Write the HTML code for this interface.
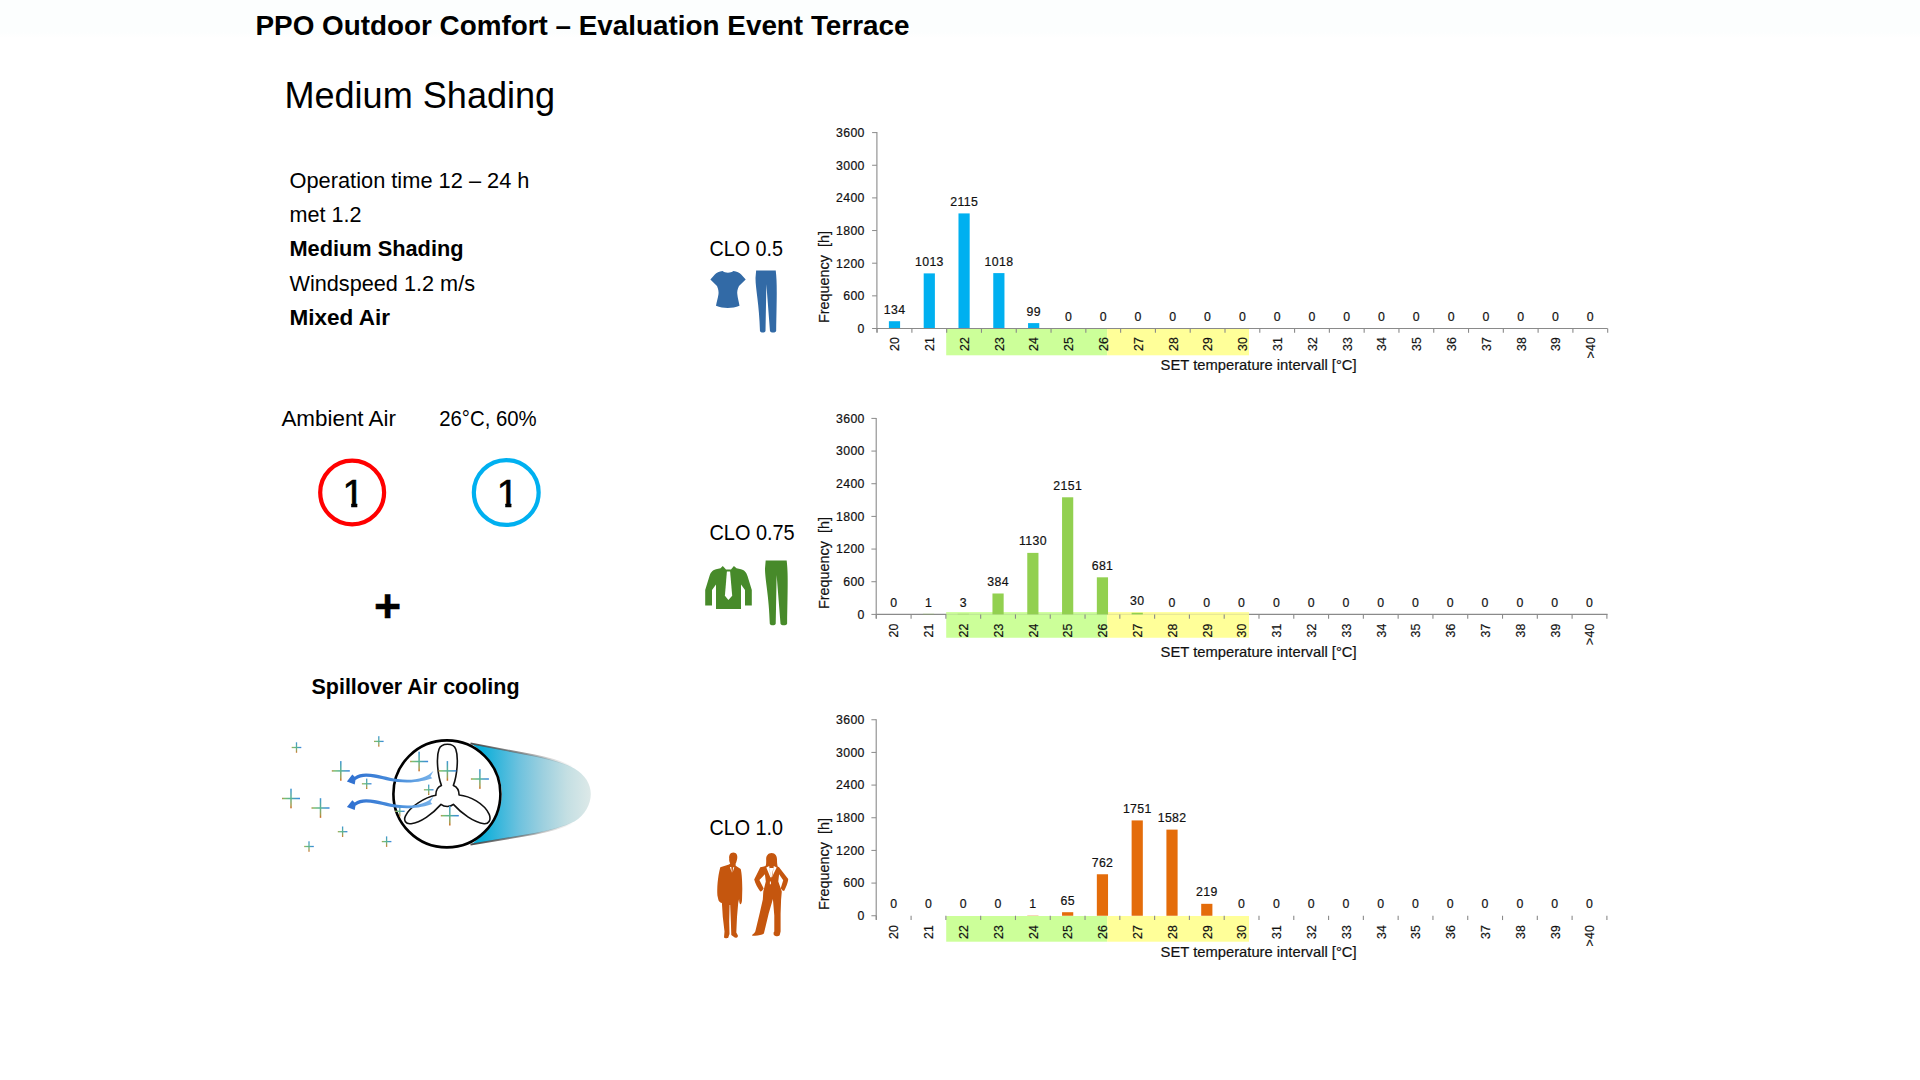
<!DOCTYPE html>
<html lang="en"><head><meta charset="utf-8"><title>PPO Outdoor Comfort – Evaluation Event Terrace</title>
<style>
html,body{margin:0;padding:0;background:#fff;}
body{width:1920px;height:1080px;overflow:hidden;font-family:"Liberation Sans",sans-serif;}
svg{display:block;position:absolute;left:0;top:0;}
svg text{font-family:"Liberation Sans",sans-serif;}
.c text{font-size:12.3px;fill:#111;stroke:#111;stroke-width:0.2px;}
</style></head><body>
<svg width="1920" height="1080" viewBox="0 0 1920 1080">
<defs>
<linearGradient id="hdr" x1="0" y1="0" x2="0" y2="1"><stop offset="0" stop-color="#fcfefe"/><stop offset="0.85" stop-color="#fcfefe"/><stop offset="1" stop-color="#ffffff"/></linearGradient>
<linearGradient id="cone" x1="0" y1="0" x2="1" y2="0"><stop offset="0" stop-color="#00acd8"/><stop offset="0.1" stop-color="#10b0da"/><stop offset="0.25" stop-color="#3fb8dc"/><stop offset="0.4" stop-color="#6ec2de"/><stop offset="0.6" stop-color="#9dd0df"/><stop offset="0.8" stop-color="#c4dfe3"/><stop offset="1" stop-color="#dde9e8"/></linearGradient>
<linearGradient id="edge" gradientUnits="userSpaceOnUse" x1="470" y1="0" x2="575" y2="0"><stop offset="0" stop-color="#444" stop-opacity="0.95"/><stop offset="0.5" stop-color="#666" stop-opacity="0.7"/><stop offset="1" stop-color="#999" stop-opacity="0"/></linearGradient>
<linearGradient id="ph" x1="0" y1="0" x2="1" y2="0"><stop offset="0" stop-color="#c08a4a"/><stop offset="0.12" stop-color="#7fbf6a"/><stop offset="0.5" stop-color="#4fb0a0"/><stop offset="1" stop-color="#3a86e0"/></linearGradient>
<linearGradient id="pv" x1="0" y1="0" x2="0" y2="1"><stop offset="0" stop-color="#3f95d6"/><stop offset="0.5" stop-color="#5fb58a"/><stop offset="0.85" stop-color="#a89a4c"/><stop offset="1" stop-color="#d0661f"/></linearGradient>
<linearGradient id="arwg" gradientUnits="userSpaceOnUse" x1="346" y1="0" x2="434" y2="0"><stop offset="0" stop-color="#2f6fd0"/><stop offset="0.6" stop-color="#4a8fdc"/><stop offset="1" stop-color="#7ab4ea"/></linearGradient>
<g id="plus"><rect x="-4.8" y="-0.65" width="9.6" height="1.3" fill="url(#ph)"/><rect x="-0.65" y="-5.2" width="1.3" height="10.4" fill="url(#pv)"/></g>
<g id="plusL"><rect x="-9" y="-0.75" width="18" height="1.5" fill="url(#ph)"/><rect x="-0.75" y="-9.8" width="1.5" height="19.6" fill="url(#pv)"/></g>
</defs>
<rect x="0" y="0" width="1920" height="38" fill="url(#hdr)"/>

<text x="255.5" y="34.5" font-size="27.85" font-weight="bold" fill="#000">PPO Outdoor Comfort – Evaluation Event Terrace</text>
<text x="284.4" y="107.5" font-size="36" textLength="270.8" lengthAdjust="spacingAndGlyphs" fill="#000">Medium Shading</text>
<text x="289.5" y="187.5" font-size="22.5" textLength="240" lengthAdjust="spacingAndGlyphs" fill="#000">Operation time 12 – 24 h</text>
<text x="289.5" y="222" font-size="22.5" textLength="72" lengthAdjust="spacingAndGlyphs" fill="#000">met 1.2</text>
<text x="289.5" y="256.25" font-size="22.5" font-weight="bold" textLength="174" lengthAdjust="spacingAndGlyphs" fill="#000">Medium Shading</text>
<text x="289.5" y="290.5" font-size="22.5" textLength="185.5" lengthAdjust="spacingAndGlyphs" fill="#000">Windspeed 1.2 m/s</text>
<text x="289.5" y="324.75" font-size="22.5" font-weight="bold" textLength="100.5" lengthAdjust="spacingAndGlyphs" fill="#000">Mixed Air</text>
<text x="281.4" y="425.7" font-size="22.5" textLength="114.6" lengthAdjust="spacingAndGlyphs" fill="#000">Ambient Air</text>
<text x="439.2" y="425.7" font-size="22.5" textLength="97.5" lengthAdjust="spacingAndGlyphs" fill="#000">26°C, 60%</text>
<circle cx="352.15" cy="492.5" r="31.95" fill="none" stroke="#ff0000" stroke-width="4.2"/>
<circle cx="506.25" cy="492.5" r="32.4" fill="none" stroke="#00b0f0" stroke-width="4.2"/>
<clipPath id="c1"><path d="M338,470 H370 V502.8 H357.3 V512 H351.2 V502.8 H338 Z"/></clipPath><clipPath id="c2"><path d="M492,470 H524 V502.8 H511.4 V512 H505.3 V502.8 H492 Z"/></clipPath>
<text x="353.4" y="507.1" font-size="39" text-anchor="middle" fill="#000" stroke="#000" stroke-width="0.7" clip-path="url(#c1)">1</text>
<text x="507.5" y="507.1" font-size="39" text-anchor="middle" fill="#000" stroke="#000" stroke-width="0.7" clip-path="url(#c2)">1</text>
<text x="387.7" y="621.9" font-size="46.5" font-weight="bold" text-anchor="middle" fill="#000" stroke="#000" stroke-width="0.5">+</text>
<text x="311.5" y="693.5" font-size="22.5" font-weight="bold" textLength="208" lengthAdjust="spacingAndGlyphs" fill="#000">Spillover Air cooling</text>
<text x="709.5" y="255.5" font-size="22.5" textLength="73.6" lengthAdjust="spacingAndGlyphs" fill="#000">CLO 0.5</text>
<text x="709.5" y="540.1" font-size="22.5" textLength="85.2" lengthAdjust="spacingAndGlyphs" fill="#000">CLO 0.75</text>
<text x="709.5" y="835.4" font-size="22.5" textLength="73.6" lengthAdjust="spacingAndGlyphs" fill="#000">CLO 1.0</text>
<g id="fan">
<path d="M471.5,743.8 L534.6,755.7 C548,758.3 565,763.3 574.4,768.4 C585,774.5 590.8,784 590.8,793.9 C590.8,804 585,815.2 574.4,821.6 C565,826.6 548,831.2 534.6,833.7 L471.5,844.2 C512,815 512,773 471.5,743.8 Z" fill="url(#cone)"/>
<path d="M470.5,743.4 L534.6,755.5 C548,758.1 562,762.2 572,766.8" fill="none" stroke="url(#edge)" stroke-width="1.8"/>
<path d="M470.5,844.6 L534.6,833.9 C548,831.4 562,827.6 572,823" fill="none" stroke="url(#edge)" stroke-width="1.8"/>
<circle cx="446.9" cy="793.9" r="53.5" fill="#fff" stroke="#000" stroke-width="2.6"/>
<g fill="none" stroke="#111" stroke-width="1.6" stroke-linejoin="round">
<path d="M441.4,785.4 C437.8,775.8 435.9,757.7 439.0,749.3 C441.4,742.6 453.4,742.6 455.8,749.3 C458.8,757.7 457.0,775.8 453.4,785.4 C456.4,786.6 459.1,789.6 459.1,795.0 C469.7,796.0 484.1,803.4 489.2,814.3 C491.6,820.5 488.2,824.1 484.1,823.7 C473.9,822.5 461.2,813.1 453.4,804.4 C450.4,807.1 444.4,807.1 441.0,804.4 C432.3,814.3 420.5,822.7 411.1,823.7 C405.6,824.4 403.4,820.3 405.4,816.1 C409.7,806.6 425.1,797.2 435.9,795.3 C435.7,790.2 438.4,786.6 441.4,785.4 Z"/>
</g>
<use href="#plus" x="296.5" y="747.5"/>
<use href="#plus" x="378.8" y="741.4"/>
<use href="#plusL" x="340.8" y="770.9"/>
<use href="#plus" x="366.7" y="783.8"/>
<use href="#plusL" x="291" y="798.5"/>
<use href="#plusL" x="320.5" y="808"/>
<use href="#plus" x="342.6" y="831.7"/>
<use href="#plus" x="309" y="846.5"/>
<use href="#plus" x="386.6" y="841.6"/>
<use href="#plusL" x="419.1" y="761.5"/>
<use href="#plusL" x="447.4" y="770.9"/>
<use href="#plusL" x="479.9" y="779"/>
<use href="#plus" x="428.7" y="789.8"/>
<use href="#plus" x="399.8" y="811.3"/>
<use href="#plusL" x="449.8" y="815.7"/>
<path id="arw" d="M433.5,770.7 C426.3,778.2 414.3,781.2 397.4,779.1 C387.8,777.9 378.2,773.9 366.1,773.6 C361.3,773.6 357.7,774.8 354.7,776.7 L352.3,774.5 L346.9,781.4 L354.7,784.4 L355.5,780.0 C358.9,777.6 362.5,776.7 366.1,776.7 C378.2,777.2 387.8,781.2 397.4,782.0 C414.3,783.6 425.1,780.6 432.3,778.2 L430.5,776.4 L433.5,770.7 Z" fill="url(#arwg)"/>
<use href="#arw" y="25.7"/>
</g>
<path fill="#326aa6" d="M722.6,271 C725,273.3 730.8,273.3 733.4,271 C737,271.6 739.5,272.8 741.2,274.6 L745.7,279.4 L739,285.9 C737.5,289 737,291.5 737.3,294 C737.6,298 739,302 739.5,305.8 C732,308.8 723.5,308.8 716,305.8 C716.5,302 718,298 718.5,294 C718.8,291.5 718.3,289 717,285.9 L710.4,279.4 L714.8,274.6 C716.5,272.8 719,271.6 722.6,271 Z"/>
<path fill="#326aa6" d="M756.139,270.6 L775.735,270.6 C777.226,283.04 776.8,295.48 776.1610000000001,330.934 C775.309,333.111 770.836,333.111 769.984,330.934 L766.363,284.28400000000005 L765.511,330.934 C764.659,333.111 760.825,333.111 759.973,330.934 C759.334,304.81 755.5,289.26000000000005 755.5,278.064 Z"/>
<path fill="#478a2a" d="M722.8,566 L726,569.4 L731,569.4 L733.9,566 L736.5,568.3 L741,569.2 C745,570.2 746.5,573 747.5,576 L751.8,590 L751.8,605.6 L745,605.6 L745,590 L741,584.5 L741,609 L716,609 L716,584.5 L712,590 L712,605.6 L705.2,605.6 L705.2,590 L709.5,576 C710.5,573 712,570.2 716,569.2 L720.5,568.3 Z"/>
<path fill="#fff" d="M726.9,571.6 L730.1,571.6 L732.2,595.8 L728.4,600 L724.9,595.8 Z"/>
<path fill="#478a2a" d="M765.684,560.6 L786.66,560.6 C788.256,573.6 787.8,586.6 787.116,623.65 C786.204,625.925 781.416,625.925 780.504,623.65 L776.628,574.9 L775.716,623.65 C774.804,625.925 770.7,625.925 769.788,623.65 C769.104,596.35 765.0,580.1 765.0,568.4 Z"/>
<g fill="#c5560e">
<path d="M733.3,852.4 C736.5,852.4 737.8,855.3 737.2,858.5 C737.0,860.2 736.3,862.5 735.6,863.8 L735.7,865.7 L740.7,868.9 C741.8,872.7 742.3,881.6 742.3,888.7 L742.0,900.3 C741.8,902.9 740.9,904.7 740.2,904.3 C739.3,902.9 739.1,900.3 739.1,898.9 L738.2,902.9 L737.0,917.1 L736.3,932.4 L737.9,935.4 C738.2,937.4 736.5,937.8 734.7,937.6 L731.3,935.1 L730.9,922.5 L730.2,905.1 L729.6,905.1 L729.2,921.6 L729.5,934.0 L728.1,938.1 C726.2,938.5 724.5,938.1 724.0,937.4 L724.5,931.4 L722.8,917.1 L721.9,903.1 C720.5,902.9 719.0,901.6 718.5,900.3 L717.4,895.4 C716.9,888.7 717.6,877.1 720.3,867.3 L729.0,864.5 L730.2,863.4 C729.3,862.0 729.0,860.2 729.2,858.5 C728.8,855.3 730.2,852.4 733.3,852.4 Z"/>
<path d="M771.6,853.1 C775.6,853.1 777.2,856.7 777.0,860.2 C777.0,862.9 777.4,865.1 777.7,866.6 L779.1,867.2 L788.2,879.1 C788.0,883.4 785.4,888.7 784.1,891.0 L782.5,890.5 L780.7,888.2 L783.2,880.3 L779.1,874.3 L778.3,881.6 L781.8,891.4 L781.1,899.4 L780.6,913.6 L780.6,931.4 L779.7,935.3 C778.3,936.5 775.6,936.5 773.8,934.9 L773.5,932.7 L774.3,931.4 L774.3,915.4 L772.9,899.0 L768.7,913.6 L763.9,933.6 C761.4,935.4 756.0,936.3 751.8,935.5 C752.1,934.4 754.2,933.6 755.3,931.4 L759.8,912.7 L762.8,899.4 L763.3,891.4 L765.8,881.6 L764.9,874.3 L759.4,880.0 L763.7,888.5 L761.9,890.9 L760.3,891.5 C757.8,887.8 755.1,883.4 754.2,879.4 L760.3,867.3 L765.5,866.1 C766.2,864.7 766.2,862.9 766.2,860.2 C765.8,856.7 767.6,853.1 771.6,853.1 Z"/>
</g>
<path fill="#fff" d="M729.9,867.0 L731.3,867.0 L731.8,872.7 Z M734.3,867.2 L733.1,867.2 L732.5,872.7 Z"/>
<path fill="#fff" d="M766.3,867.4 L769.2,865.9 L770.2,874.5 L770.8,878.4 Z M776.7,867.4 L773.8,865.9 L772.6,874.5 L771.3,878.4 Z M769.6,868 L773.4,868 L771.6,877 L770.6,877 Z M769.9,881.4 L770.9,881.4 L770.9,884.2 L769.9,884.2 Z"/>
<g class="c">
<rect x="946.2" y="329" width="161.0" height="26.30" fill="#ccff99"/>
<rect x="1107.2" y="329" width="141.8" height="26.30" fill="#ffff99"/>
<rect x="888.89" y="321.21" width="11.2" height="7.29" fill="#00b0f0"/>
<text x="894.60" y="313.71" text-anchor="middle" letter-spacing="0.35">134</text>
<rect x="923.69" y="273.38" width="11.2" height="55.12" fill="#00b0f0"/>
<text x="929.39" y="265.88" text-anchor="middle" letter-spacing="0.35">1013</text>
<rect x="958.48" y="213.41" width="11.2" height="115.09" fill="#00b0f0"/>
<text x="964.18" y="205.91" text-anchor="middle" letter-spacing="0.35">2115</text>
<rect x="993.26" y="273.10" width="11.2" height="55.40" fill="#00b0f0"/>
<text x="998.97" y="265.60" text-anchor="middle" letter-spacing="0.35">1018</text>
<rect x="1028.06" y="323.11" width="11.2" height="5.39" fill="#00b0f0"/>
<text x="1033.75" y="315.61" text-anchor="middle" letter-spacing="0.35">99</text>
<text x="1068.54" y="321.00" text-anchor="middle" letter-spacing="0.35">0</text>
<text x="1103.34" y="321.00" text-anchor="middle" letter-spacing="0.35">0</text>
<text x="1138.12" y="321.00" text-anchor="middle" letter-spacing="0.35">0</text>
<text x="1172.91" y="321.00" text-anchor="middle" letter-spacing="0.35">0</text>
<text x="1207.70" y="321.00" text-anchor="middle" letter-spacing="0.35">0</text>
<text x="1242.49" y="321.00" text-anchor="middle" letter-spacing="0.35">0</text>
<text x="1277.28" y="321.00" text-anchor="middle" letter-spacing="0.35">0</text>
<text x="1312.07" y="321.00" text-anchor="middle" letter-spacing="0.35">0</text>
<text x="1346.86" y="321.00" text-anchor="middle" letter-spacing="0.35">0</text>
<text x="1381.65" y="321.00" text-anchor="middle" letter-spacing="0.35">0</text>
<text x="1416.44" y="321.00" text-anchor="middle" letter-spacing="0.35">0</text>
<text x="1451.23" y="321.00" text-anchor="middle" letter-spacing="0.35">0</text>
<text x="1486.02" y="321.00" text-anchor="middle" letter-spacing="0.35">0</text>
<text x="1520.82" y="321.00" text-anchor="middle" letter-spacing="0.35">0</text>
<text x="1555.61" y="321.00" text-anchor="middle" letter-spacing="0.35">0</text>
<text x="1590.39" y="321.00" text-anchor="middle" letter-spacing="0.35">0</text>
<path d="M876.9,132.1 V332.5" stroke="#8a8a8a" stroke-width="1.1" fill="none"/>
<path d="M876.9,328.5 H1607.6" stroke="#8a8a8a" stroke-width="1.1" fill="none"/>
<path d="M872.1,328.50 H876.9" stroke="#8a8a8a" stroke-width="1"/>
<text x="864.8" y="332.80" text-anchor="end" letter-spacing="0.35">0</text>
<path d="M872.1,295.85 H876.9" stroke="#8a8a8a" stroke-width="1"/>
<text x="864.8" y="300.15" text-anchor="end" letter-spacing="0.35">600</text>
<path d="M872.1,263.20 H876.9" stroke="#8a8a8a" stroke-width="1"/>
<text x="864.8" y="267.50" text-anchor="end" letter-spacing="0.35">1200</text>
<path d="M872.1,230.55 H876.9" stroke="#8a8a8a" stroke-width="1"/>
<text x="864.8" y="234.85" text-anchor="end" letter-spacing="0.35">1800</text>
<path d="M872.1,197.90 H876.9" stroke="#8a8a8a" stroke-width="1"/>
<text x="864.8" y="202.20" text-anchor="end" letter-spacing="0.35">2400</text>
<path d="M872.1,165.25 H876.9" stroke="#8a8a8a" stroke-width="1"/>
<text x="864.8" y="169.55" text-anchor="end" letter-spacing="0.35">3000</text>
<path d="M872.1,132.60 H876.9" stroke="#8a8a8a" stroke-width="1"/>
<text x="864.8" y="136.90" text-anchor="end" letter-spacing="0.35">3600</text>
<path d="M877.10,328.5 V332.8" stroke="#8a8a8a" stroke-width="1.1"/>
<path d="M911.89,328.5 V332.8" stroke="#8a8a8a" stroke-width="1.1"/>
<path d="M946.68,328.5 V332.8" stroke="#8a8a8a" stroke-width="1.1"/>
<path d="M981.47,328.5 V332.8" stroke="#8a8a8a" stroke-width="1.1"/>
<path d="M1016.26,328.5 V332.8" stroke="#8a8a8a" stroke-width="1.1"/>
<path d="M1051.05,328.5 V332.8" stroke="#8a8a8a" stroke-width="1.1"/>
<path d="M1085.84,328.5 V332.8" stroke="#8a8a8a" stroke-width="1.1"/>
<path d="M1120.63,328.5 V332.8" stroke="#8a8a8a" stroke-width="1.1"/>
<path d="M1155.42,328.5 V332.8" stroke="#8a8a8a" stroke-width="1.1"/>
<path d="M1190.21,328.5 V332.8" stroke="#8a8a8a" stroke-width="1.1"/>
<path d="M1225.00,328.5 V332.8" stroke="#8a8a8a" stroke-width="1.1"/>
<path d="M1259.79,328.5 V332.8" stroke="#8a8a8a" stroke-width="1.1"/>
<path d="M1294.58,328.5 V332.8" stroke="#8a8a8a" stroke-width="1.1"/>
<path d="M1329.37,328.5 V332.8" stroke="#8a8a8a" stroke-width="1.1"/>
<path d="M1364.16,328.5 V332.8" stroke="#8a8a8a" stroke-width="1.1"/>
<path d="M1398.95,328.5 V332.8" stroke="#8a8a8a" stroke-width="1.1"/>
<path d="M1433.74,328.5 V332.8" stroke="#8a8a8a" stroke-width="1.1"/>
<path d="M1468.53,328.5 V332.8" stroke="#8a8a8a" stroke-width="1.1"/>
<path d="M1503.32,328.5 V332.8" stroke="#8a8a8a" stroke-width="1.1"/>
<path d="M1538.11,328.5 V332.8" stroke="#8a8a8a" stroke-width="1.1"/>
<path d="M1572.90,328.5 V332.8" stroke="#8a8a8a" stroke-width="1.1"/>
<path d="M1607.69,328.5 V332.8" stroke="#8a8a8a" stroke-width="1.1"/>
<text transform="translate(899.29,336.9) rotate(-90)" text-anchor="end" letter-spacing="0.25">20</text>
<text transform="translate(934.09,336.9) rotate(-90)" text-anchor="end" letter-spacing="0.25">21</text>
<text transform="translate(968.88,336.9) rotate(-90)" text-anchor="end" letter-spacing="0.25">22</text>
<text transform="translate(1003.66,336.9) rotate(-90)" text-anchor="end" letter-spacing="0.25">23</text>
<text transform="translate(1038.45,336.9) rotate(-90)" text-anchor="end" letter-spacing="0.25">24</text>
<text transform="translate(1073.24,336.9) rotate(-90)" text-anchor="end" letter-spacing="0.25">25</text>
<text transform="translate(1108.04,336.9) rotate(-90)" text-anchor="end" letter-spacing="0.25">26</text>
<text transform="translate(1142.83,336.9) rotate(-90)" text-anchor="end" letter-spacing="0.25">27</text>
<text transform="translate(1177.62,336.9) rotate(-90)" text-anchor="end" letter-spacing="0.25">28</text>
<text transform="translate(1212.40,336.9) rotate(-90)" text-anchor="end" letter-spacing="0.25">29</text>
<text transform="translate(1247.19,336.9) rotate(-90)" text-anchor="end" letter-spacing="0.25">30</text>
<text transform="translate(1281.98,336.9) rotate(-90)" text-anchor="end" letter-spacing="0.25">31</text>
<text transform="translate(1316.77,336.9) rotate(-90)" text-anchor="end" letter-spacing="0.25">32</text>
<text transform="translate(1351.56,336.9) rotate(-90)" text-anchor="end" letter-spacing="0.25">33</text>
<text transform="translate(1386.36,336.9) rotate(-90)" text-anchor="end" letter-spacing="0.25">34</text>
<text transform="translate(1421.14,336.9) rotate(-90)" text-anchor="end" letter-spacing="0.25">35</text>
<text transform="translate(1455.93,336.9) rotate(-90)" text-anchor="end" letter-spacing="0.25">36</text>
<text transform="translate(1490.72,336.9) rotate(-90)" text-anchor="end" letter-spacing="0.25">37</text>
<text transform="translate(1525.52,336.9) rotate(-90)" text-anchor="end" letter-spacing="0.25">38</text>
<text transform="translate(1560.31,336.9) rotate(-90)" text-anchor="end" letter-spacing="0.25">39</text>
<text transform="translate(1595.10,336.9) rotate(-90)" text-anchor="end" letter-spacing="0.25">&gt;40</text>
<text x="1160.6" y="370.1" style="font-size:15px" textLength="196" lengthAdjust="spacingAndGlyphs">SET temperature intervall [°C]</text>
<text transform="translate(829.4,277) rotate(-90)" text-anchor="middle" style="font-size:14px" textLength="92" lengthAdjust="spacingAndGlyphs" xml:space="preserve">Frequency  [h]</text>
</g>
<g class="c">
<rect x="946.2" y="612.25" width="161.0" height="25.50" fill="#ccff99"/>
<rect x="1107.2" y="612.25" width="141.8" height="25.50" fill="#ffff99"/>
<path d="M876.2,614.4 H1607.6" stroke="#8a8a8a" stroke-width="1.1" fill="none"/>
<rect x="946.2" y="612.25" width="161.0" height="3.15" fill="#ccff99" opacity="0.8"/>
<rect x="1107.2" y="612.25" width="141.8" height="3.15" fill="#ffff99" opacity="0.8"/>
<text x="893.79" y="606.90" text-anchor="middle" letter-spacing="0.35">0</text>
<rect x="922.88" y="613.70" width="11.2" height="0.70" fill="#92d050" opacity="0.40"/>
<text x="928.58" y="606.85" text-anchor="middle" letter-spacing="0.35">1</text>
<rect x="957.67" y="613.70" width="11.2" height="0.70" fill="#92d050" opacity="0.51"/>
<text x="963.38" y="606.74" text-anchor="middle" letter-spacing="0.35">3</text>
<rect x="992.46" y="593.49" width="11.2" height="20.91" fill="#92d050"/>
<text x="998.16" y="585.99" text-anchor="middle" letter-spacing="0.35">384</text>
<rect x="1027.26" y="552.88" width="11.2" height="61.52" fill="#92d050"/>
<text x="1032.95" y="545.38" text-anchor="middle" letter-spacing="0.35">1130</text>
<rect x="1062.05" y="497.29" width="11.2" height="117.11" fill="#92d050"/>
<text x="1067.74" y="489.79" text-anchor="middle" letter-spacing="0.35">2151</text>
<rect x="1096.84" y="577.32" width="11.2" height="37.08" fill="#92d050"/>
<text x="1102.53" y="569.82" text-anchor="middle" letter-spacing="0.35">681</text>
<rect x="1131.62" y="612.77" width="11.2" height="1.63" fill="#92d050"/>
<text x="1137.32" y="605.27" text-anchor="middle" letter-spacing="0.35">30</text>
<text x="1172.11" y="606.90" text-anchor="middle" letter-spacing="0.35">0</text>
<text x="1206.90" y="606.90" text-anchor="middle" letter-spacing="0.35">0</text>
<text x="1241.69" y="606.90" text-anchor="middle" letter-spacing="0.35">0</text>
<text x="1276.48" y="606.90" text-anchor="middle" letter-spacing="0.35">0</text>
<text x="1311.27" y="606.90" text-anchor="middle" letter-spacing="0.35">0</text>
<text x="1346.06" y="606.90" text-anchor="middle" letter-spacing="0.35">0</text>
<text x="1380.85" y="606.90" text-anchor="middle" letter-spacing="0.35">0</text>
<text x="1415.64" y="606.90" text-anchor="middle" letter-spacing="0.35">0</text>
<text x="1450.43" y="606.90" text-anchor="middle" letter-spacing="0.35">0</text>
<text x="1485.22" y="606.90" text-anchor="middle" letter-spacing="0.35">0</text>
<text x="1520.01" y="606.90" text-anchor="middle" letter-spacing="0.35">0</text>
<text x="1554.80" y="606.90" text-anchor="middle" letter-spacing="0.35">0</text>
<text x="1589.59" y="606.90" text-anchor="middle" letter-spacing="0.35">0</text>
<path d="M876.2,417.9 V618.4" stroke="#8a8a8a" stroke-width="1.1" fill="none"/>
<path d="M871.4000000000001,614.40 H876.2" stroke="#8a8a8a" stroke-width="1"/>
<text x="864.8" y="618.70" text-anchor="end" letter-spacing="0.35">0</text>
<path d="M871.4000000000001,581.73 H876.2" stroke="#8a8a8a" stroke-width="1"/>
<text x="864.8" y="586.03" text-anchor="end" letter-spacing="0.35">600</text>
<path d="M871.4000000000001,549.07 H876.2" stroke="#8a8a8a" stroke-width="1"/>
<text x="864.8" y="553.37" text-anchor="end" letter-spacing="0.35">1200</text>
<path d="M871.4000000000001,516.40 H876.2" stroke="#8a8a8a" stroke-width="1"/>
<text x="864.8" y="520.70" text-anchor="end" letter-spacing="0.35">1800</text>
<path d="M871.4000000000001,483.73 H876.2" stroke="#8a8a8a" stroke-width="1"/>
<text x="864.8" y="488.03" text-anchor="end" letter-spacing="0.35">2400</text>
<path d="M871.4000000000001,451.07 H876.2" stroke="#8a8a8a" stroke-width="1"/>
<text x="864.8" y="455.37" text-anchor="end" letter-spacing="0.35">3000</text>
<path d="M871.4000000000001,418.40 H876.2" stroke="#8a8a8a" stroke-width="1"/>
<text x="864.8" y="422.70" text-anchor="end" letter-spacing="0.35">3600</text>
<path d="M876.30,614.4 V618.6999999999999" stroke="#8a8a8a" stroke-width="1.1"/>
<path d="M911.09,614.4 V618.6999999999999" stroke="#8a8a8a" stroke-width="1.1"/>
<path d="M945.88,614.4 V618.6999999999999" stroke="#8a8a8a" stroke-width="1.1"/>
<path d="M980.67,614.4 V618.6999999999999" stroke="#8a8a8a" stroke-width="1.1"/>
<path d="M1015.46,614.4 V618.6999999999999" stroke="#8a8a8a" stroke-width="1.1"/>
<path d="M1050.25,614.4 V618.6999999999999" stroke="#8a8a8a" stroke-width="1.1"/>
<path d="M1085.04,614.4 V618.6999999999999" stroke="#8a8a8a" stroke-width="1.1"/>
<path d="M1119.83,614.4 V618.6999999999999" stroke="#8a8a8a" stroke-width="1.1"/>
<path d="M1154.62,614.4 V618.6999999999999" stroke="#8a8a8a" stroke-width="1.1"/>
<path d="M1189.41,614.4 V618.6999999999999" stroke="#8a8a8a" stroke-width="1.1"/>
<path d="M1224.20,614.4 V618.6999999999999" stroke="#8a8a8a" stroke-width="1.1"/>
<path d="M1258.99,614.4 V618.6999999999999" stroke="#8a8a8a" stroke-width="1.1"/>
<path d="M1293.78,614.4 V618.6999999999999" stroke="#8a8a8a" stroke-width="1.1"/>
<path d="M1328.57,614.4 V618.6999999999999" stroke="#8a8a8a" stroke-width="1.1"/>
<path d="M1363.36,614.4 V618.6999999999999" stroke="#8a8a8a" stroke-width="1.1"/>
<path d="M1398.15,614.4 V618.6999999999999" stroke="#8a8a8a" stroke-width="1.1"/>
<path d="M1432.94,614.4 V618.6999999999999" stroke="#8a8a8a" stroke-width="1.1"/>
<path d="M1467.73,614.4 V618.6999999999999" stroke="#8a8a8a" stroke-width="1.1"/>
<path d="M1502.52,614.4 V618.6999999999999" stroke="#8a8a8a" stroke-width="1.1"/>
<path d="M1537.31,614.4 V618.6999999999999" stroke="#8a8a8a" stroke-width="1.1"/>
<path d="M1572.10,614.4 V618.6999999999999" stroke="#8a8a8a" stroke-width="1.1"/>
<path d="M1606.89,614.4 V618.6999999999999" stroke="#8a8a8a" stroke-width="1.1"/>
<text transform="translate(898.49,623.4) rotate(-90)" text-anchor="end" letter-spacing="0.25">20</text>
<text transform="translate(933.28,623.4) rotate(-90)" text-anchor="end" letter-spacing="0.25">21</text>
<text transform="translate(968.07,623.4) rotate(-90)" text-anchor="end" letter-spacing="0.25">22</text>
<text transform="translate(1002.86,623.4) rotate(-90)" text-anchor="end" letter-spacing="0.25">23</text>
<text transform="translate(1037.65,623.4) rotate(-90)" text-anchor="end" letter-spacing="0.25">24</text>
<text transform="translate(1072.44,623.4) rotate(-90)" text-anchor="end" letter-spacing="0.25">25</text>
<text transform="translate(1107.23,623.4) rotate(-90)" text-anchor="end" letter-spacing="0.25">26</text>
<text transform="translate(1142.02,623.4) rotate(-90)" text-anchor="end" letter-spacing="0.25">27</text>
<text transform="translate(1176.81,623.4) rotate(-90)" text-anchor="end" letter-spacing="0.25">28</text>
<text transform="translate(1211.60,623.4) rotate(-90)" text-anchor="end" letter-spacing="0.25">29</text>
<text transform="translate(1246.39,623.4) rotate(-90)" text-anchor="end" letter-spacing="0.25">30</text>
<text transform="translate(1281.18,623.4) rotate(-90)" text-anchor="end" letter-spacing="0.25">31</text>
<text transform="translate(1315.97,623.4) rotate(-90)" text-anchor="end" letter-spacing="0.25">32</text>
<text transform="translate(1350.76,623.4) rotate(-90)" text-anchor="end" letter-spacing="0.25">33</text>
<text transform="translate(1385.55,623.4) rotate(-90)" text-anchor="end" letter-spacing="0.25">34</text>
<text transform="translate(1420.35,623.4) rotate(-90)" text-anchor="end" letter-spacing="0.25">35</text>
<text transform="translate(1455.13,623.4) rotate(-90)" text-anchor="end" letter-spacing="0.25">36</text>
<text transform="translate(1489.92,623.4) rotate(-90)" text-anchor="end" letter-spacing="0.25">37</text>
<text transform="translate(1524.71,623.4) rotate(-90)" text-anchor="end" letter-spacing="0.25">38</text>
<text transform="translate(1559.50,623.4) rotate(-90)" text-anchor="end" letter-spacing="0.25">39</text>
<text transform="translate(1594.29,623.4) rotate(-90)" text-anchor="end" letter-spacing="0.25">&gt;40</text>
<text x="1160.6" y="656.6" style="font-size:15px" textLength="196" lengthAdjust="spacingAndGlyphs">SET temperature intervall [°C]</text>
<text transform="translate(829.4,563) rotate(-90)" text-anchor="middle" style="font-size:14px" textLength="92" lengthAdjust="spacingAndGlyphs" xml:space="preserve">Frequency  [h]</text>
</g>
<g class="c">
<rect x="946.2" y="916" width="161.0" height="25.70" fill="#ccff99"/>
<rect x="1107.2" y="916" width="141.8" height="25.70" fill="#ffff99"/>
<text x="893.79" y="908.25" text-anchor="middle" letter-spacing="0.35">0</text>
<text x="928.58" y="908.25" text-anchor="middle" letter-spacing="0.35">0</text>
<text x="963.38" y="908.25" text-anchor="middle" letter-spacing="0.35">0</text>
<text x="998.16" y="908.25" text-anchor="middle" letter-spacing="0.35">0</text>
<rect x="1027.26" y="915.05" width="11.2" height="0.70" fill="#e46c0a" opacity="0.40"/>
<text x="1032.95" y="908.20" text-anchor="middle" letter-spacing="0.35">1</text>
<rect x="1062.05" y="912.21" width="11.2" height="3.54" fill="#e46c0a"/>
<text x="1067.74" y="904.71" text-anchor="middle" letter-spacing="0.35">65</text>
<rect x="1096.84" y="874.26" width="11.2" height="41.49" fill="#e46c0a"/>
<text x="1102.53" y="866.76" text-anchor="middle" letter-spacing="0.35">762</text>
<rect x="1131.62" y="820.42" width="11.2" height="95.33" fill="#e46c0a"/>
<text x="1137.32" y="812.92" text-anchor="middle" letter-spacing="0.35">1751</text>
<rect x="1166.41" y="829.62" width="11.2" height="86.13" fill="#e46c0a"/>
<text x="1172.11" y="822.12" text-anchor="middle" letter-spacing="0.35">1582</text>
<rect x="1201.20" y="903.83" width="11.2" height="11.92" fill="#e46c0a"/>
<text x="1206.90" y="896.33" text-anchor="middle" letter-spacing="0.35">219</text>
<text x="1241.69" y="908.25" text-anchor="middle" letter-spacing="0.35">0</text>
<text x="1276.48" y="908.25" text-anchor="middle" letter-spacing="0.35">0</text>
<text x="1311.27" y="908.25" text-anchor="middle" letter-spacing="0.35">0</text>
<text x="1346.06" y="908.25" text-anchor="middle" letter-spacing="0.35">0</text>
<text x="1380.85" y="908.25" text-anchor="middle" letter-spacing="0.35">0</text>
<text x="1415.64" y="908.25" text-anchor="middle" letter-spacing="0.35">0</text>
<text x="1450.43" y="908.25" text-anchor="middle" letter-spacing="0.35">0</text>
<text x="1485.22" y="908.25" text-anchor="middle" letter-spacing="0.35">0</text>
<text x="1520.01" y="908.25" text-anchor="middle" letter-spacing="0.35">0</text>
<text x="1554.80" y="908.25" text-anchor="middle" letter-spacing="0.35">0</text>
<text x="1589.59" y="908.25" text-anchor="middle" letter-spacing="0.35">0</text>
<path d="M876.2,719.25 V919.75" stroke="#8a8a8a" stroke-width="1.1" fill="none"/>
<path d="M871.4000000000001,915.75 H876.2" stroke="#8a8a8a" stroke-width="1"/>
<text x="864.8" y="920.05" text-anchor="end" letter-spacing="0.35">0</text>
<path d="M871.4000000000001,883.08 H876.2" stroke="#8a8a8a" stroke-width="1"/>
<text x="864.8" y="887.38" text-anchor="end" letter-spacing="0.35">600</text>
<path d="M871.4000000000001,850.42 H876.2" stroke="#8a8a8a" stroke-width="1"/>
<text x="864.8" y="854.72" text-anchor="end" letter-spacing="0.35">1200</text>
<path d="M871.4000000000001,817.75 H876.2" stroke="#8a8a8a" stroke-width="1"/>
<text x="864.8" y="822.05" text-anchor="end" letter-spacing="0.35">1800</text>
<path d="M871.4000000000001,785.08 H876.2" stroke="#8a8a8a" stroke-width="1"/>
<text x="864.8" y="789.38" text-anchor="end" letter-spacing="0.35">2400</text>
<path d="M871.4000000000001,752.42 H876.2" stroke="#8a8a8a" stroke-width="1"/>
<text x="864.8" y="756.72" text-anchor="end" letter-spacing="0.35">3000</text>
<path d="M871.4000000000001,719.75 H876.2" stroke="#8a8a8a" stroke-width="1"/>
<text x="864.8" y="724.05" text-anchor="end" letter-spacing="0.35">3600</text>
<path d="M876.30,915.75 V920.05" stroke="#8a8a8a" stroke-width="1.1"/>
<path d="M911.09,915.75 V920.05" stroke="#8a8a8a" stroke-width="1.1"/>
<path d="M945.88,915.75 V920.05" stroke="#8a8a8a" stroke-width="1.1"/>
<path d="M980.67,915.75 V920.05" stroke="#8a8a8a" stroke-width="1.1"/>
<path d="M1015.46,915.75 V920.05" stroke="#8a8a8a" stroke-width="1.1"/>
<path d="M1050.25,915.75 V920.05" stroke="#8a8a8a" stroke-width="1.1"/>
<path d="M1085.04,915.75 V920.05" stroke="#8a8a8a" stroke-width="1.1"/>
<path d="M1119.83,915.75 V920.05" stroke="#8a8a8a" stroke-width="1.1"/>
<path d="M1154.62,915.75 V920.05" stroke="#8a8a8a" stroke-width="1.1"/>
<path d="M1189.41,915.75 V920.05" stroke="#8a8a8a" stroke-width="1.1"/>
<path d="M1224.20,915.75 V920.05" stroke="#8a8a8a" stroke-width="1.1"/>
<path d="M1258.99,915.75 V920.05" stroke="#8a8a8a" stroke-width="1.1"/>
<path d="M1293.78,915.75 V920.05" stroke="#8a8a8a" stroke-width="1.1"/>
<path d="M1328.57,915.75 V920.05" stroke="#8a8a8a" stroke-width="1.1"/>
<path d="M1363.36,915.75 V920.05" stroke="#8a8a8a" stroke-width="1.1"/>
<path d="M1398.15,915.75 V920.05" stroke="#8a8a8a" stroke-width="1.1"/>
<path d="M1432.94,915.75 V920.05" stroke="#8a8a8a" stroke-width="1.1"/>
<path d="M1467.73,915.75 V920.05" stroke="#8a8a8a" stroke-width="1.1"/>
<path d="M1502.52,915.75 V920.05" stroke="#8a8a8a" stroke-width="1.1"/>
<path d="M1537.31,915.75 V920.05" stroke="#8a8a8a" stroke-width="1.1"/>
<path d="M1572.10,915.75 V920.05" stroke="#8a8a8a" stroke-width="1.1"/>
<path d="M1606.89,915.75 V920.05" stroke="#8a8a8a" stroke-width="1.1"/>
<text transform="translate(898.49,924.9) rotate(-90)" text-anchor="end" letter-spacing="0.25">20</text>
<text transform="translate(933.28,924.9) rotate(-90)" text-anchor="end" letter-spacing="0.25">21</text>
<text transform="translate(968.07,924.9) rotate(-90)" text-anchor="end" letter-spacing="0.25">22</text>
<text transform="translate(1002.86,924.9) rotate(-90)" text-anchor="end" letter-spacing="0.25">23</text>
<text transform="translate(1037.65,924.9) rotate(-90)" text-anchor="end" letter-spacing="0.25">24</text>
<text transform="translate(1072.44,924.9) rotate(-90)" text-anchor="end" letter-spacing="0.25">25</text>
<text transform="translate(1107.23,924.9) rotate(-90)" text-anchor="end" letter-spacing="0.25">26</text>
<text transform="translate(1142.02,924.9) rotate(-90)" text-anchor="end" letter-spacing="0.25">27</text>
<text transform="translate(1176.81,924.9) rotate(-90)" text-anchor="end" letter-spacing="0.25">28</text>
<text transform="translate(1211.60,924.9) rotate(-90)" text-anchor="end" letter-spacing="0.25">29</text>
<text transform="translate(1246.39,924.9) rotate(-90)" text-anchor="end" letter-spacing="0.25">30</text>
<text transform="translate(1281.18,924.9) rotate(-90)" text-anchor="end" letter-spacing="0.25">31</text>
<text transform="translate(1315.97,924.9) rotate(-90)" text-anchor="end" letter-spacing="0.25">32</text>
<text transform="translate(1350.76,924.9) rotate(-90)" text-anchor="end" letter-spacing="0.25">33</text>
<text transform="translate(1385.55,924.9) rotate(-90)" text-anchor="end" letter-spacing="0.25">34</text>
<text transform="translate(1420.35,924.9) rotate(-90)" text-anchor="end" letter-spacing="0.25">35</text>
<text transform="translate(1455.13,924.9) rotate(-90)" text-anchor="end" letter-spacing="0.25">36</text>
<text transform="translate(1489.92,924.9) rotate(-90)" text-anchor="end" letter-spacing="0.25">37</text>
<text transform="translate(1524.71,924.9) rotate(-90)" text-anchor="end" letter-spacing="0.25">38</text>
<text transform="translate(1559.50,924.9) rotate(-90)" text-anchor="end" letter-spacing="0.25">39</text>
<text transform="translate(1594.29,924.9) rotate(-90)" text-anchor="end" letter-spacing="0.25">&gt;40</text>
<text x="1160.6" y="957.1" style="font-size:15px" textLength="196" lengthAdjust="spacingAndGlyphs">SET temperature intervall [°C]</text>
<text transform="translate(829.4,864) rotate(-90)" text-anchor="middle" style="font-size:14px" textLength="92" lengthAdjust="spacingAndGlyphs" xml:space="preserve">Frequency  [h]</text>
</g>
</svg></body></html>
